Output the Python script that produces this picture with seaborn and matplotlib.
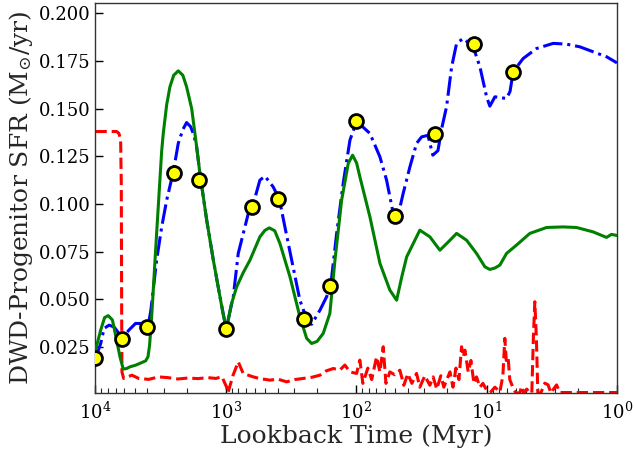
import numpy as np
import pandas as pd
import matplotlib
matplotlib.use("Agg")
import matplotlib.pyplot as plt
import seaborn as sns

# ---- data (log10 of lookback time in Myr, SFR in Msun/yr) ----
green_logt = [4.0, 3.96, 3.93, 3.902, 3.87, 3.838, 3.812, 3.787, 3.76, 3.735, 3.693, 3.659,
              3.615, 3.597, 3.585, 3.569, 3.531, 3.492, 3.48, 3.454, 3.429, 3.40, 3.365,
              3.33, 3.301, 3.262, 3.224, 3.199, 3.147, 3.096, 3.045, 3.02, 2.994, 2.96,
              2.917, 2.867, 2.815, 2.739, 2.70, 2.667, 2.625, 2.585, 2.508, 2.432, 2.38,
              2.342, 2.30, 2.253, 2.202, 2.163, 2.112, 2.061, 2.028, 1.997, 1.972, 1.895,
              1.818, 1.742, 1.690, 1.65, 1.613, 1.512, 1.435, 1.358, 1.281, 1.230, 1.153,
              1.077, 1.013, 0.975, 0.935, 0.898, 0.847, 0.770, 0.668, 0.540, 0.413, 0.310,
              0.183, 0.080, 0.042, 0.0]
green_sfr = [0.0234, 0.0339, 0.0405, 0.0415, 0.0392, 0.0287, 0.0199, 0.0135, 0.0138, 0.0147,
             0.0155, 0.0165, 0.0178, 0.0200, 0.0260, 0.0409, 0.0846, 0.128, 0.137, 0.152,
             0.1614, 0.1675, 0.1698, 0.1675, 0.1614, 0.150, 0.130, 0.116, 0.0916, 0.0706,
             0.0514, 0.0420, 0.0345, 0.0470, 0.0566, 0.0640, 0.0706, 0.0828, 0.0862, 0.0875,
             0.0860, 0.0793, 0.0618, 0.0409, 0.0296, 0.0269, 0.0280, 0.0322, 0.0427, 0.0706,
             0.102, 0.1213, 0.1256, 0.1215, 0.1143, 0.0933, 0.0689, 0.0549, 0.0496, 0.0620,
             0.0723, 0.0863, 0.0828, 0.0758, 0.081, 0.0846, 0.081, 0.0741, 0.0671, 0.0657,
             0.0665, 0.068, 0.0741, 0.0785, 0.0846, 0.0877, 0.088, 0.0877, 0.0854, 0.0825,
             0.0841, 0.0835]

blue_logt = [4.0, 3.96, 3.934, 3.896, 3.858, 3.820, 3.795, 3.744, 3.693, 3.641, 3.597, 3.575,
             3.531, 3.492, 3.454, 3.403, 3.365, 3.330, 3.301, 3.27, 3.245, 3.224, 3.199,
             3.147, 3.096, 3.045, 2.998, 2.943, 2.905, 2.828, 2.795, 2.739, 2.700, 2.637,
             2.590, 2.547, 2.495, 2.432, 2.368, 2.342, 2.278, 2.227, 2.196, 2.150, 2.100,
             2.048, 1.997, 1.895, 1.818, 1.767, 1.716, 1.690, 1.640, 1.588, 1.537, 1.498,
             1.450, 1.412, 1.373, 1.343, 1.307, 1.268, 1.230, 1.179, 1.103, 1.051, 1.000,
             0.975, 0.936, 0.847, 0.820, 0.796, 0.719, 0.617, 0.489, 0.387, 0.285, 0.183,
             0.080, 0.0]
blue_sfr = [0.019, 0.0269, 0.0348, 0.0365, 0.0356, 0.0322, 0.0296, 0.0339, 0.0374, 0.0374,
            0.0356, 0.0444, 0.0706, 0.088, 0.102, 0.1169, 0.1318, 0.139, 0.1427, 0.1405,
            0.136, 0.130, 0.116, 0.0916, 0.0706, 0.0514, 0.0345, 0.0514, 0.0741, 0.095,
            0.0987, 0.1125, 0.1146, 0.109, 0.1027, 0.088, 0.0706, 0.0496, 0.0374, 0.0370,
            0.0444, 0.0514, 0.0571, 0.0846, 0.1108, 0.1335, 0.1434, 0.137, 0.1247, 0.1125,
            0.0951, 0.0907, 0.1055, 0.1195, 0.1318, 0.1352, 0.136, 0.1256, 0.128, 0.140,
            0.151, 0.1719, 0.1842, 0.1868, 0.1824, 0.1719, 0.1562, 0.1513, 0.1562, 0.1553,
            0.159, 0.1694, 0.1763, 0.1815, 0.1842, 0.1838, 0.1824, 0.1798, 0.1772, 0.174]

red_logt = [4.0, 3.837, 3.820, 3.807, 3.802, 3.799, 3.797, 3.784, 3.751, 3.720, 3.669, 3.592,
            3.515, 3.444, 3.367, 3.291, 3.214, 3.137, 3.076, 3.030, 2.994, 2.984, 2.946,
            2.905, 2.867, 2.790, 2.739, 2.662, 2.600, 2.534, 2.470, 2.406, 2.340, 2.278,
            2.232, 2.176, 2.125, 2.087, 2.048, 1.997, 1.972, 1.949, 1.911, 1.881, 1.844,
            1.818, 1.793, 1.772, 1.742, 1.704, 1.665, 1.635, 1.604, 1.573, 1.537, 1.512,
            1.474, 1.435, 1.410, 1.382, 1.351, 1.328, 1.307, 1.281, 1.258, 1.235, 1.212,
            1.192, 1.179, 1.166, 1.141, 1.120, 1.097, 1.077, 1.051, 1.028, 1.000, 0.975,
            0.936, 0.898, 0.875, 0.860, 0.849, 0.835, 0.822, 0.799, 0.776, 0.745, 0.732,
            0.715, 0.692, 0.668, 0.653, 0.641, 0.630, 0.618, 0.607, 0.584, 0.553, 0.528,
            0.507, 0.463, 0.438, 0.0]
red_sfr = [0.138, 0.138, 0.137, 0.1335, 0.11, 0.04, 0.012, 0.0086, 0.0095, 0.0103, 0.0086,
           0.0081, 0.0094, 0.0090, 0.0083, 0.0088, 0.0085, 0.0090, 0.0086, 0.0095, 0.004,
           0.001, 0.010, 0.0173, 0.0112, 0.0094, 0.0085, 0.0077, 0.0082, 0.0068, 0.0080,
           0.0086, 0.0092, 0.0103, 0.0125, 0.0138, 0.0130, 0.0156, 0.0120, 0.0112, 0.0182,
           0.006, 0.014, 0.008, 0.0199, 0.012, 0.0252, 0.006, 0.012, 0.0105, 0.0129, 0.005,
           0.011, 0.006, 0.0112, 0.004, 0.010, 0.005, 0.0094, 0.003, 0.010, 0.004, 0.0077,
           0.012, 0.004, 0.014, 0.008, 0.0252, 0.020, 0.0234, 0.012, 0.018, 0.006, 0.0094,
           0.004, 0.006, 0.0025, 0.001, 0.004, 0.0015, 0.010, 0.0296, 0.018, 0.0199, 0.008,
           0.004, 0.001, 0.001, 0.0044, 0.001, 0.003, 0.001, 0.001, 0.030, 0.0488, 0.030,
           0.001, 0.001, 0.0061, 0.0052, 0.001, 0.0052, 0.0012, 0.0012]

marker_time = [10000, 6300, 4000, 2500, 1600, 1000, 630, 400, 250, 160, 100, 50, 25, 12.5, 6.25]
marker_sfr = [0.0195, 0.0293, 0.0353, 0.1165, 0.1128, 0.0346, 0.0987, 0.1027, 0.0398,
              0.0571, 0.1434, 0.0936, 0.1367, 0.1839, 0.1694]

xtick_vals = [1e4, 1e3, 1e2, 1e1, 1e0]
xtick_labels = [r"$10^4$", r"$10^3$", r"$10^2$", r"$10^1$", r"$10^0$"]
ytick_vals = [0.025, 0.050, 0.075, 0.100, 0.125, 0.150, 0.175, 0.200]

# ---- frames ----
green_df = pd.DataFrame({"t": np.power(10.0, green_logt), "sfr": green_sfr})
blue_df = pd.DataFrame({"t": np.power(10.0, blue_logt), "sfr": blue_sfr})
red_df = pd.DataFrame({"t": np.power(10.0, red_logt), "sfr": red_sfr})
mk_df = pd.DataFrame({"t": marker_time, "sfr": marker_sfr})

sns.set_style("ticks")
plt.rcParams["font.family"] = ["DejaVu Serif"]
plt.rcParams["mathtext.fontset"] = "dejavuserif"

fig = plt.figure(figsize=(6.34, 4.53), dpi=100)
ax = fig.add_axes([0.1506, 0.1318, 0.8225, 0.8609])

sns.lineplot(data=red_df, x="t", y="sfr", ax=ax, color="red", linestyle="--",
             linewidth=2.2, estimator=None, sort=False, zorder=2)
sns.lineplot(data=blue_df, x="t", y="sfr", ax=ax, color="blue", linestyle="-.",
             linewidth=2.2, estimator=None, sort=False, zorder=3)
sns.lineplot(data=green_df, x="t", y="sfr", ax=ax, color="green", linestyle="-",
             linewidth=2.2, estimator=None, sort=False, zorder=4)
sns.scatterplot(data=mk_df, x="t", y="sfr", ax=ax, color="yellow", edgecolor="black",
                linewidth=2.0, s=100, zorder=5)

ax.set_xscale("log")
ax.set_xlim(1e4, 1e0)
ax.set_ylim(0.0008, 0.2052)
ax.set_xticks(xtick_vals)
ax.set_xticklabels(xtick_labels)
ax.set_yticks(ytick_vals)
ax.set_yticklabels([f"{v:.3f}" for v in ytick_vals])
ax.tick_params(axis="both", which="major", direction="in", length=6, width=1,
               labelsize=13, colors="black")
ax.tick_params(axis="x", which="minor", direction="in", length=3.5, width=0.8)
ax.tick_params(axis="x", which="major", pad=6)
for sp in ax.spines.values():
    sp.set_visible(True)
    sp.set_color("#333333")
    sp.set_linewidth(1.0)

ax.set_xlabel("Lookback Time (Myr)", fontsize=18, labelpad=1)
ax.set_ylabel(r"DWD-Progenitor SFR (M$_{\odot}$/yr)", fontsize=18, labelpad=3)

fig.savefig("out.png", dpi=100)
